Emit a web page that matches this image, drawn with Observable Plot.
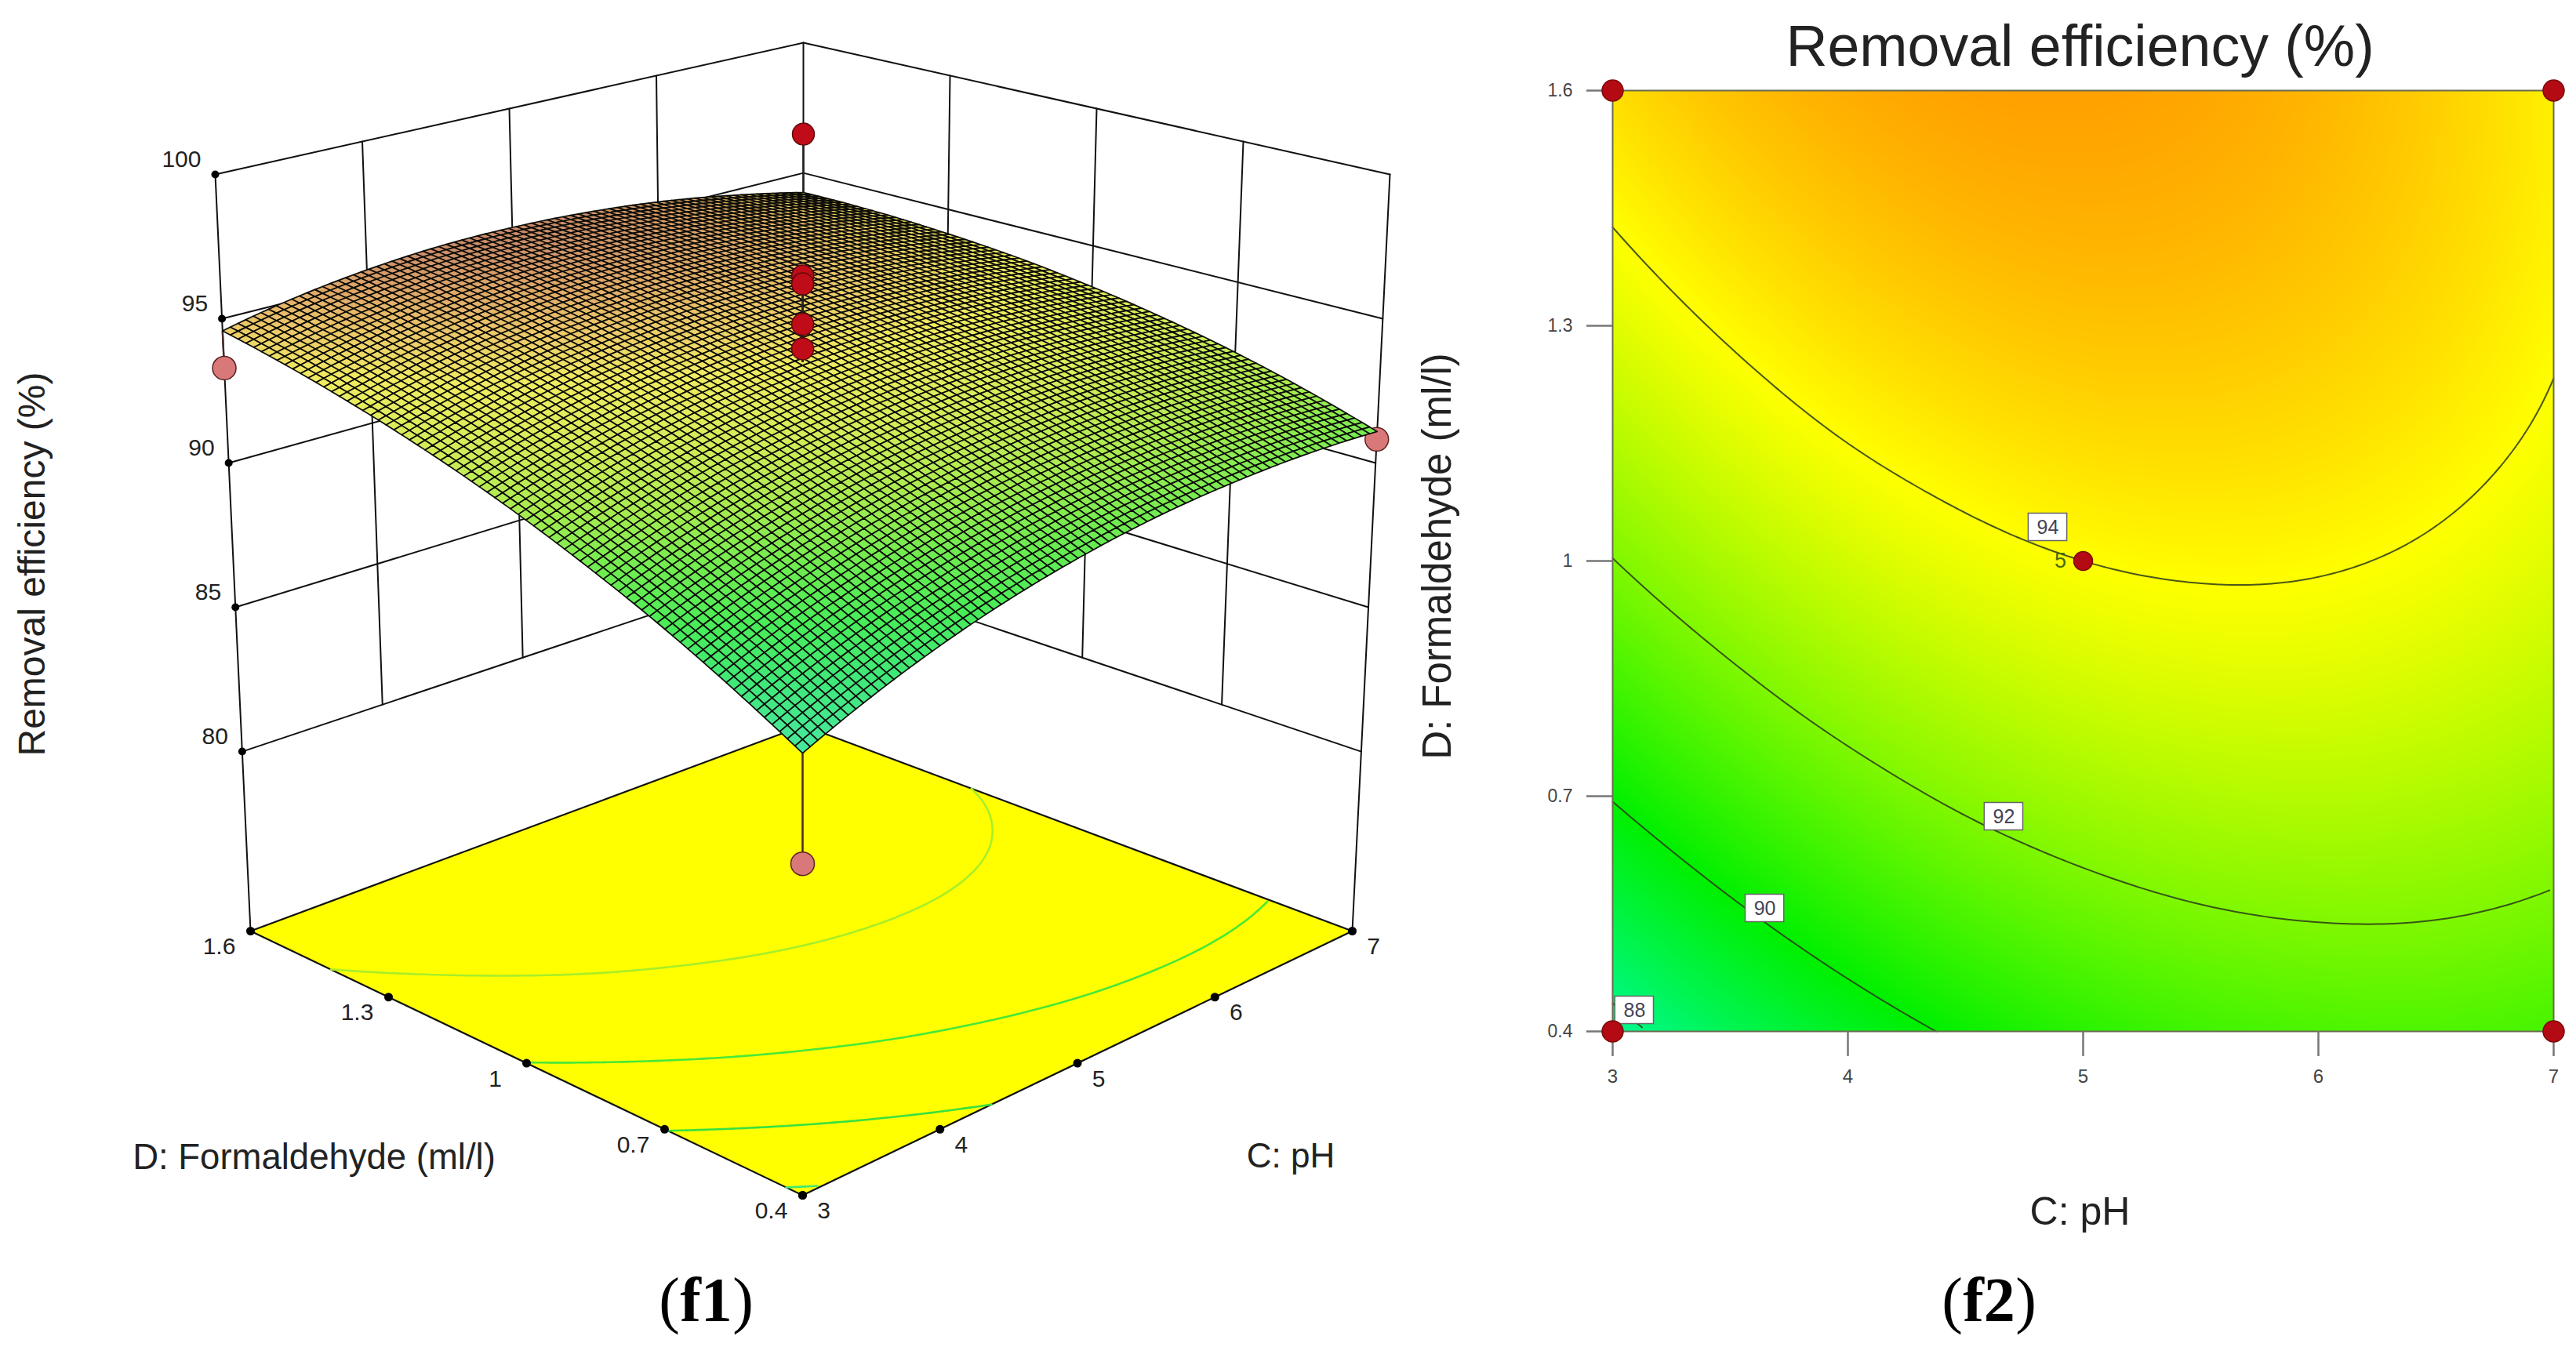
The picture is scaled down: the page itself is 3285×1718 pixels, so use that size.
<!DOCTYPE html>
<html>
<head>
<meta charset="utf-8">
<script src="https://cdn.jsdelivr.net/npm/d3@7"></script>
<script src="https://cdn.jsdelivr.net/npm/@observablehq/plot@0.6"></script>
<style>
html,body{margin:0;padding:0;background:#fff;}
#chart{position:relative;width:3285px;height:1718px;overflow:hidden;}
#chart>*{position:absolute;top:0;}
</style>
</head>
<body>
<div id="chart"></div>
<script>
// ---------- values ----------
const phTicks = [3, 4, 5, 6, 7];
const formaldehydeTicks = [0.4, 0.7, 1, 1.3, 1.6];
const efficiencyTicks = [80, 85, 90, 95, 100];
const contourLevels = [88, 90, 92, 94];
const phNodes = [3, 3.5, 4, 4.5, 5, 5.5, 6, 6.5, 7];
const formaldehydeNodes = [0.4, 0.55, 0.7, 0.85, 1, 1.15, 1.3, 1.45, 1.6];
// removal efficiency (%) : one row per formaldehyde node, one column per pH node
const efficiencyGrid = [
  [87.70, 88.67, 89.49, 90.15, 90.65, 91.00, 91.18, 91.22, 91.09],
  [88.92, 89.84, 90.60, 91.20, 91.64, 91.93, 92.06, 92.04, 91.85],
  [90.05, 90.90, 91.60, 92.15, 92.53, 92.76, 92.84, 92.75, 92.51],
  [91.06, 91.86, 92.51, 92.99, 93.32, 93.49, 93.51, 93.36, 93.06],
  [91.98, 92.72, 93.30, 93.73, 94.00, 94.11, 94.07, 93.87, 93.51],
  [92.79, 93.47, 94.00, 94.36, 94.58, 94.63, 94.53, 94.27, 93.86],
  [93.49, 94.11, 94.58, 94.89, 95.05, 95.04, 94.88, 94.57, 94.09],
  [94.09, 94.65, 95.06, 95.32, 95.41, 95.35, 95.13, 94.76, 94.23],
  [94.58, 95.09, 95.44, 95.64, 95.67, 95.55, 95.28, 94.84, 94.25]
];
const pointsBelow = [
  {ph: 3, d: 0.4, e: 84.22},
  {ph: 3, d: 1.6, e: 93.29},
  {ph: 7, d: 0.4, e: 90.82}
];
const pointsAbove = [
  {ph: 7, d: 1.6, e: 96.49},
  {ph: 5, d: 1, e: 96.97},
  {ph: 5, d: 1, e: 96.7},
  {ph: 5, d: 1, e: 95.3},
  {ph: 5, d: 1, e: 94.45}
];
const designCorners = [{ph: 3, d: 0.4}, {ph: 7, d: 0.4}, {ph: 3, d: 1.6}, {ph: 7, d: 1.6}];
const centerPoint = [{ph: 5, d: 1, n: 5}];
const contourLabels = [
  {ph: 4.85, d: 1.043, t: "94"},
  {ph: 4.663, d: 0.674, t: "92"},
  {ph: 3.647, d: 0.557, t: "90"},
  {ph: 3.093, d: 0.427, t: "88"}
];

// ---------- reading the table at any position (display resampling) ----------
const cr = (a, b, c, d, t) => 0.5 * (2*b + (c-a)*t + (2*a-5*b+4*c-d)*t*t + (3*b-a-3*c+d)*t*t*t);
const N = phNodes.length - 1;
function node(i, j) {
  if (i < 0) return 3*node(0,j) - 3*node(1,j) + node(2,j);
  if (i > N) return 3*node(N,j) - 3*node(N-1,j) + node(N-2,j);
  if (j < 0) return 3*node(i,0) - 3*node(i,1) + node(i,2);
  if (j > N) return 3*node(i,N) - 3*node(i,N-1) + node(i,N-2);
  return efficiencyGrid[i][j];
}
function eff(ph, d) {
  const fx = (ph - phNodes[0]) / (phNodes[1] - phNodes[0]);
  const fy = (d - formaldehydeNodes[0]) / (formaldehydeNodes[1] - formaldehydeNodes[0]);
  const j = Math.min(N-1, Math.max(0, Math.floor(fx))), i = Math.min(N-1, Math.max(0, Math.floor(fy)));
  const tx = fx - j, ty = fy - i;
  const row = k => cr(node(k,j-1), node(k,j), node(k,j+1), node(k,j+2), tx);
  return cr(row(i-1), row(i), row(i+1), row(i+2), ty);
}

// ---------- box view of the 3-D panel ----------
const boxFloor = 73.78, boxTop = 100;
const floorQuad = [[1023,1524],[1724,1187],[1024,925],[319,1187]];
const topQuad   = [[1023,462],[1772,222],[1024,54],[274,222]];
const quad = (q,u,v,k) => q[0][k]*(1-u)*(1-v) + q[1][k]*u*(1-v) + q[2][k]*u*v + q[3][k]*(1-u)*v;
function project(ph, d, e) {
  const u = (ph-3)/4, v = (d-0.4)/1.2, t = (e-boxFloor)/(boxTop-boxFloor);
  return [0,1].map(k => quad(floorQuad,u,v,k)*(1-t) + quad(topQuad,u,v,k)*t);
}
const px = o => project(o.ph, o.d, o.e ?? boxFloor)[0];
const py = o => project(o.ph, o.d, o.e ?? boxFloor)[1];

// ---------- contour traces from the table ----------
const gn = 161;
const field = new Float64Array(gn*gn);
for (let r=0;r<gn;r++) for (let c=0;c<gn;c++) field[r*gn+c] = eff(3+4*c/(gn-1), 0.4+1.2*r/(gn-1));
const traces = [];
d3.contours().size([gn,gn]).smooth(true).thresholds(contourLevels)(field).forEach(g => {
  g.coordinates.forEach(poly => poly.forEach(ring => {
    let id = traces.length ? traces[traces.length-1].id + 1 : 0;
    ring.forEach((p,i) => {
      const onB = q => q[0]<=0.5||q[0]>=gn-0.5||q[1]<=0.5||q[1]>=gn-0.5;
      if (i>0 && onB(p) && onB(ring[i-1])) { id++; return; }
      const cx = Math.min(gn-1,Math.max(0,p[0]-0.5)), cy = Math.min(gn-1,Math.max(0,p[1]-0.5));
      traces.push({id, level:g.value, ph:3+4*cx/(gn-1), d:0.4+1.2*cy/(gn-1)});
    });
  }));
});

// ---------- surface mesh ----------
const div = 75;
const cells = [];
for (let a=div-1;a>=0;a--) for (let b=div-1;b>=0;b--) {
  const ph0=3+4*b/div, ph1=3+4*(b+1)/div, d0=0.4+1.2*a/div, d1=0.4+1.2*(a+1)/div;
  const id=a*div+b, value=eff((ph0+ph1)/2,(d0+d1)/2);
  [[ph0,d0],[ph1,d0],[ph1,d1],[ph0,d1],[ph0,d0]].forEach(([ph,d]) => cells.push({id,value,ph,d,e:eff(ph,d)}));
}

// ---------- wall grid ----------
const wallSeg = [];
let sid = 0;
const seg = (A,B) => { wallSeg.push({...A,s:sid},{...B,s:sid}); sid++; };
efficiencyTicks.forEach(e => {
  seg({ph:3,d:1.6,e},{ph:7,d:1.6,e});
  seg({ph:7,d:1.6,e},{ph:7,d:0.4,e});
});
phTicks.slice(1,-1).forEach(ph => seg({ph,d:1.6,e:80},{ph,d:1.6,e:100}));
formaldehydeTicks.slice(1,-1).forEach(d => seg({ph:7,d,e:80},{ph:7,d,e:100}));
seg({ph:3,d:1.6,e:boxFloor},{ph:3,d:1.6,e:100});
seg({ph:7,d:0.4,e:boxFloor},{ph:7,d:0.4,e:100});
seg({ph:7,d:1.6,e:boxFloor},{ph:7,d:1.6,e:100});

const floorOutline = [{ph:3,d:.4},{ph:7,d:.4},{ph:7,d:1.6},{ph:3,d:1.6},{ph:3,d:.4}];
const sans = "'Liberation Sans', Arial, sans-serif";
const serif = "'Liberation Serif', serif";
const floorLevelColor = {88:"#40e870",90:"#38e040",92:"#48e838",94:"#a8ee28"};
const drop = (pts, stroke) => Plot.link(pts, {
  x1:o=>project(o.ph,o.d,eff(o.ph,o.d))[0], y1:o=>project(o.ph,o.d,eff(o.ph,o.d))[1],
  x2:px, y2:py, stroke, strokeWidth:2.5
});
// caption: regular parentheses around a bold tag
const caption = (tag, x, y, dx, dy) => [
  Plot.text(["("],{x,y,dx:dx-47,dy,fontSize:80,fontFamily:serif,fill:"#000"}),
  Plot.text([tag],{x,y,dx,dy,fontSize:80,fontWeight:"bold",fontFamily:serif,fill:"#000"}),
  Plot.text([")"],{x,y,dx:dx+47,dy,fontSize:80,fontFamily:serif,fill:"#000"})
];

const f1 = Plot.plot({
  width:1800, height:1718, margin:0,
  style:{background:"transparent", fontFamily:sans, overflow:"visible"},
  x:{domain:[0,1800], range:[0,1800], axis:null},
  y:{domain:[0,1718], range:[0,1718], axis:null},
  color:{type:"linear", interpolate:"rgb",
    domain:[87.7,89,90,91,92,93,94,94.7,95.2,95.7],
    range:["#48e8a0","#40e878","#48ec58","#70ec50","#a8ec50","#d4ec58","#f0ec60","#ecc868","#e0a868","#c88868"]},
  marks:[
    Plot.line(wallSeg,{x:px,y:py,z:"s",stroke:"#111",strokeWidth:2}),
    Plot.line(floorOutline,{x:px,y:py,fill:"#ffff00",stroke:"#111",strokeWidth:2.2}),
    ...contourLevels.map(l => Plot.line(traces.filter(t=>t.level===l),{x:px,y:py,z:"id",stroke:floorLevelColor[l],strokeWidth:2.6})),
    Plot.dot(efficiencyTicks.map(e=>({ph:3,d:1.6,e})),{x:px,y:py,r:5,fill:"#000"}),
    Plot.dot(phTicks.map(ph=>({ph,d:.4})),{x:px,y:py,r:5.5,fill:"#000"}),
    Plot.dot(formaldehydeTicks.map(d=>({ph:3,d})),{x:px,y:py,r:5.5,fill:"#000"}),
    drop(pointsBelow,"#4a2a2a"),
    Plot.dot(pointsBelow,{x:px,y:py,r:15,fill:"#d87878",stroke:"#5a2020",strokeWidth:1.5}),
    Plot.line(cells,{x:px,y:py,z:"id",fill:"value",stroke:"#0c0c08",strokeWidth:1.7}),
    drop(pointsAbove,"#222"),
    Plot.dot(pointsAbove,{x:px,y:py,r:14,fill:"#c00c18",stroke:"#5c0a0a",strokeWidth:1.5}),
    Plot.text(efficiencyTicks,{x:e=>px({ph:3,d:1.6,e}),y:e=>py({ph:3,d:1.6,e}),text:String,dx:-18,dy:-19,textAnchor:"end",fontSize:30,fill:"#222"}),
    Plot.text(phTicks,{x:ph=>px({ph,d:.4}),y:ph=>py({ph,d:.4}),text:String,dx:27,dy:20,fontSize:30,fill:"#222"}),
    Plot.text(formaldehydeTicks,{x:d=>px({ph:3,d}),y:d=>py({ph:3,d}),text:String,dx:-40,dy:20,fontSize:30,fill:"#222"}),
    Plot.text(["D: Formaldehyde (ml/l)"],{x:()=>px({ph:3,d:1}),y:()=>py({ph:3,d:1}),dx:-271,dy:120,fontSize:45.5,fill:"#222"}),
    Plot.text(["C: pH"],{x:()=>px({ph:5,d:.4}),y:()=>py({ph:5,d:.4}),dx:272,dy:119,fontSize:44,fill:"#222"}),
    Plot.text(["Removal efficiency (%)"],{x:()=>px({ph:3,d:1.6,e:85}),y:()=>py({ph:3,d:1.6,e:85}),dx:-259,dy:-55,rotate:-90,fontSize:48,fill:"#222"}),
    ...caption("f1",()=>px({ph:3,d:.4}),()=>py({ph:3,d:.4}),-123,135)
  ]
});
f1.style.left = "0px";

const f2 = Plot.plot({
  width:1485, height:1718,
  marginLeft:256, marginRight:29, marginTop:115, marginBottom:403,
  style:{background:"transparent", fontFamily:sans, overflow:"visible"},
  x:{domain:[3,7], axis:null},
  y:{domain:[0.4,1.6], axis:null},
  color:{type:"linear", interpolate:"rgb",
    domain:[86,90,94,98.5],
    range:["#00ffff","#00f000","#ffff00","#ff0000"]},
  marks:[
    Plot.raster({x1:3,x2:7,y1:0.4,y2:1.6,fill:(x,y)=>eff(x,y),pixelSize:2,imageRendering:"auto"}),
    Plot.line(traces,{x:"ph",y:"d",z:"id",stroke:"#2a3a1a",strokeOpacity:0.85,strokeWidth:2}),
    Plot.frame({stroke:"#6a6a50",strokeWidth:2}),
    Plot.axisX({ticks:phTicks,tickSize:32,tickPadding:16,fontSize:24,label:null,tickFormat:String,stroke:"#777",strokeWidth:2.5,color:"#444"}),
    Plot.axisY({ticks:formaldehydeTicks,tickSize:33,tickPadding:18,fontSize:23,label:null,tickFormat:String,stroke:"#777",strokeWidth:2.5,color:"#444"}),
    Plot.rect(contourLabels,{x1:o=>o.ph-0.082,x2:o=>o.ph+0.082,y1:o=>o.d-0.0175,y2:o=>o.d+0.0175,fill:"#fff",stroke:"#666",strokeWidth:1.5}),
    Plot.text(contourLabels,{x:"ph",y:"d",text:"t",fontSize:25,fill:"#445"}),
    Plot.dot(designCorners,{x:"ph",y:"d",r:13.5,fill:"#b40a14",stroke:"#7a0a0a",strokeWidth:1.5}),
    Plot.dot(centerPoint,{x:"ph",y:"d",r:12,fill:"#b40a14",stroke:"#7a0a0a",strokeWidth:1.5}),
    Plot.text(centerPoint,{x:"ph",y:"d",text:"n",dx:-29,fontSize:27,fill:"#4a6a10"}),
    Plot.text(["Removal efficiency (%)"],{x:()=>5,y:()=>1.6,dx:-4,dy:-55,fontSize:73.5,fill:"#222"}),
    Plot.text(["C: pH"],{x:()=>5,y:()=>0.4,dx:-4,dy:230,fontSize:50,fill:"#222"}),
    Plot.text(["D: Formaldehyde (ml/l)"],{x:()=>3,y:()=>1,dx:-223,dy:-6,rotate:-90,fontSize:51,fill:"#222"}),
    ...caption("f2",()=>4.6,()=>0.4,0,344)
  ]
});
f2.style.left = "1800px";
document.getElementById("chart").append(f1, f2);
</script>
</body>
</html>
